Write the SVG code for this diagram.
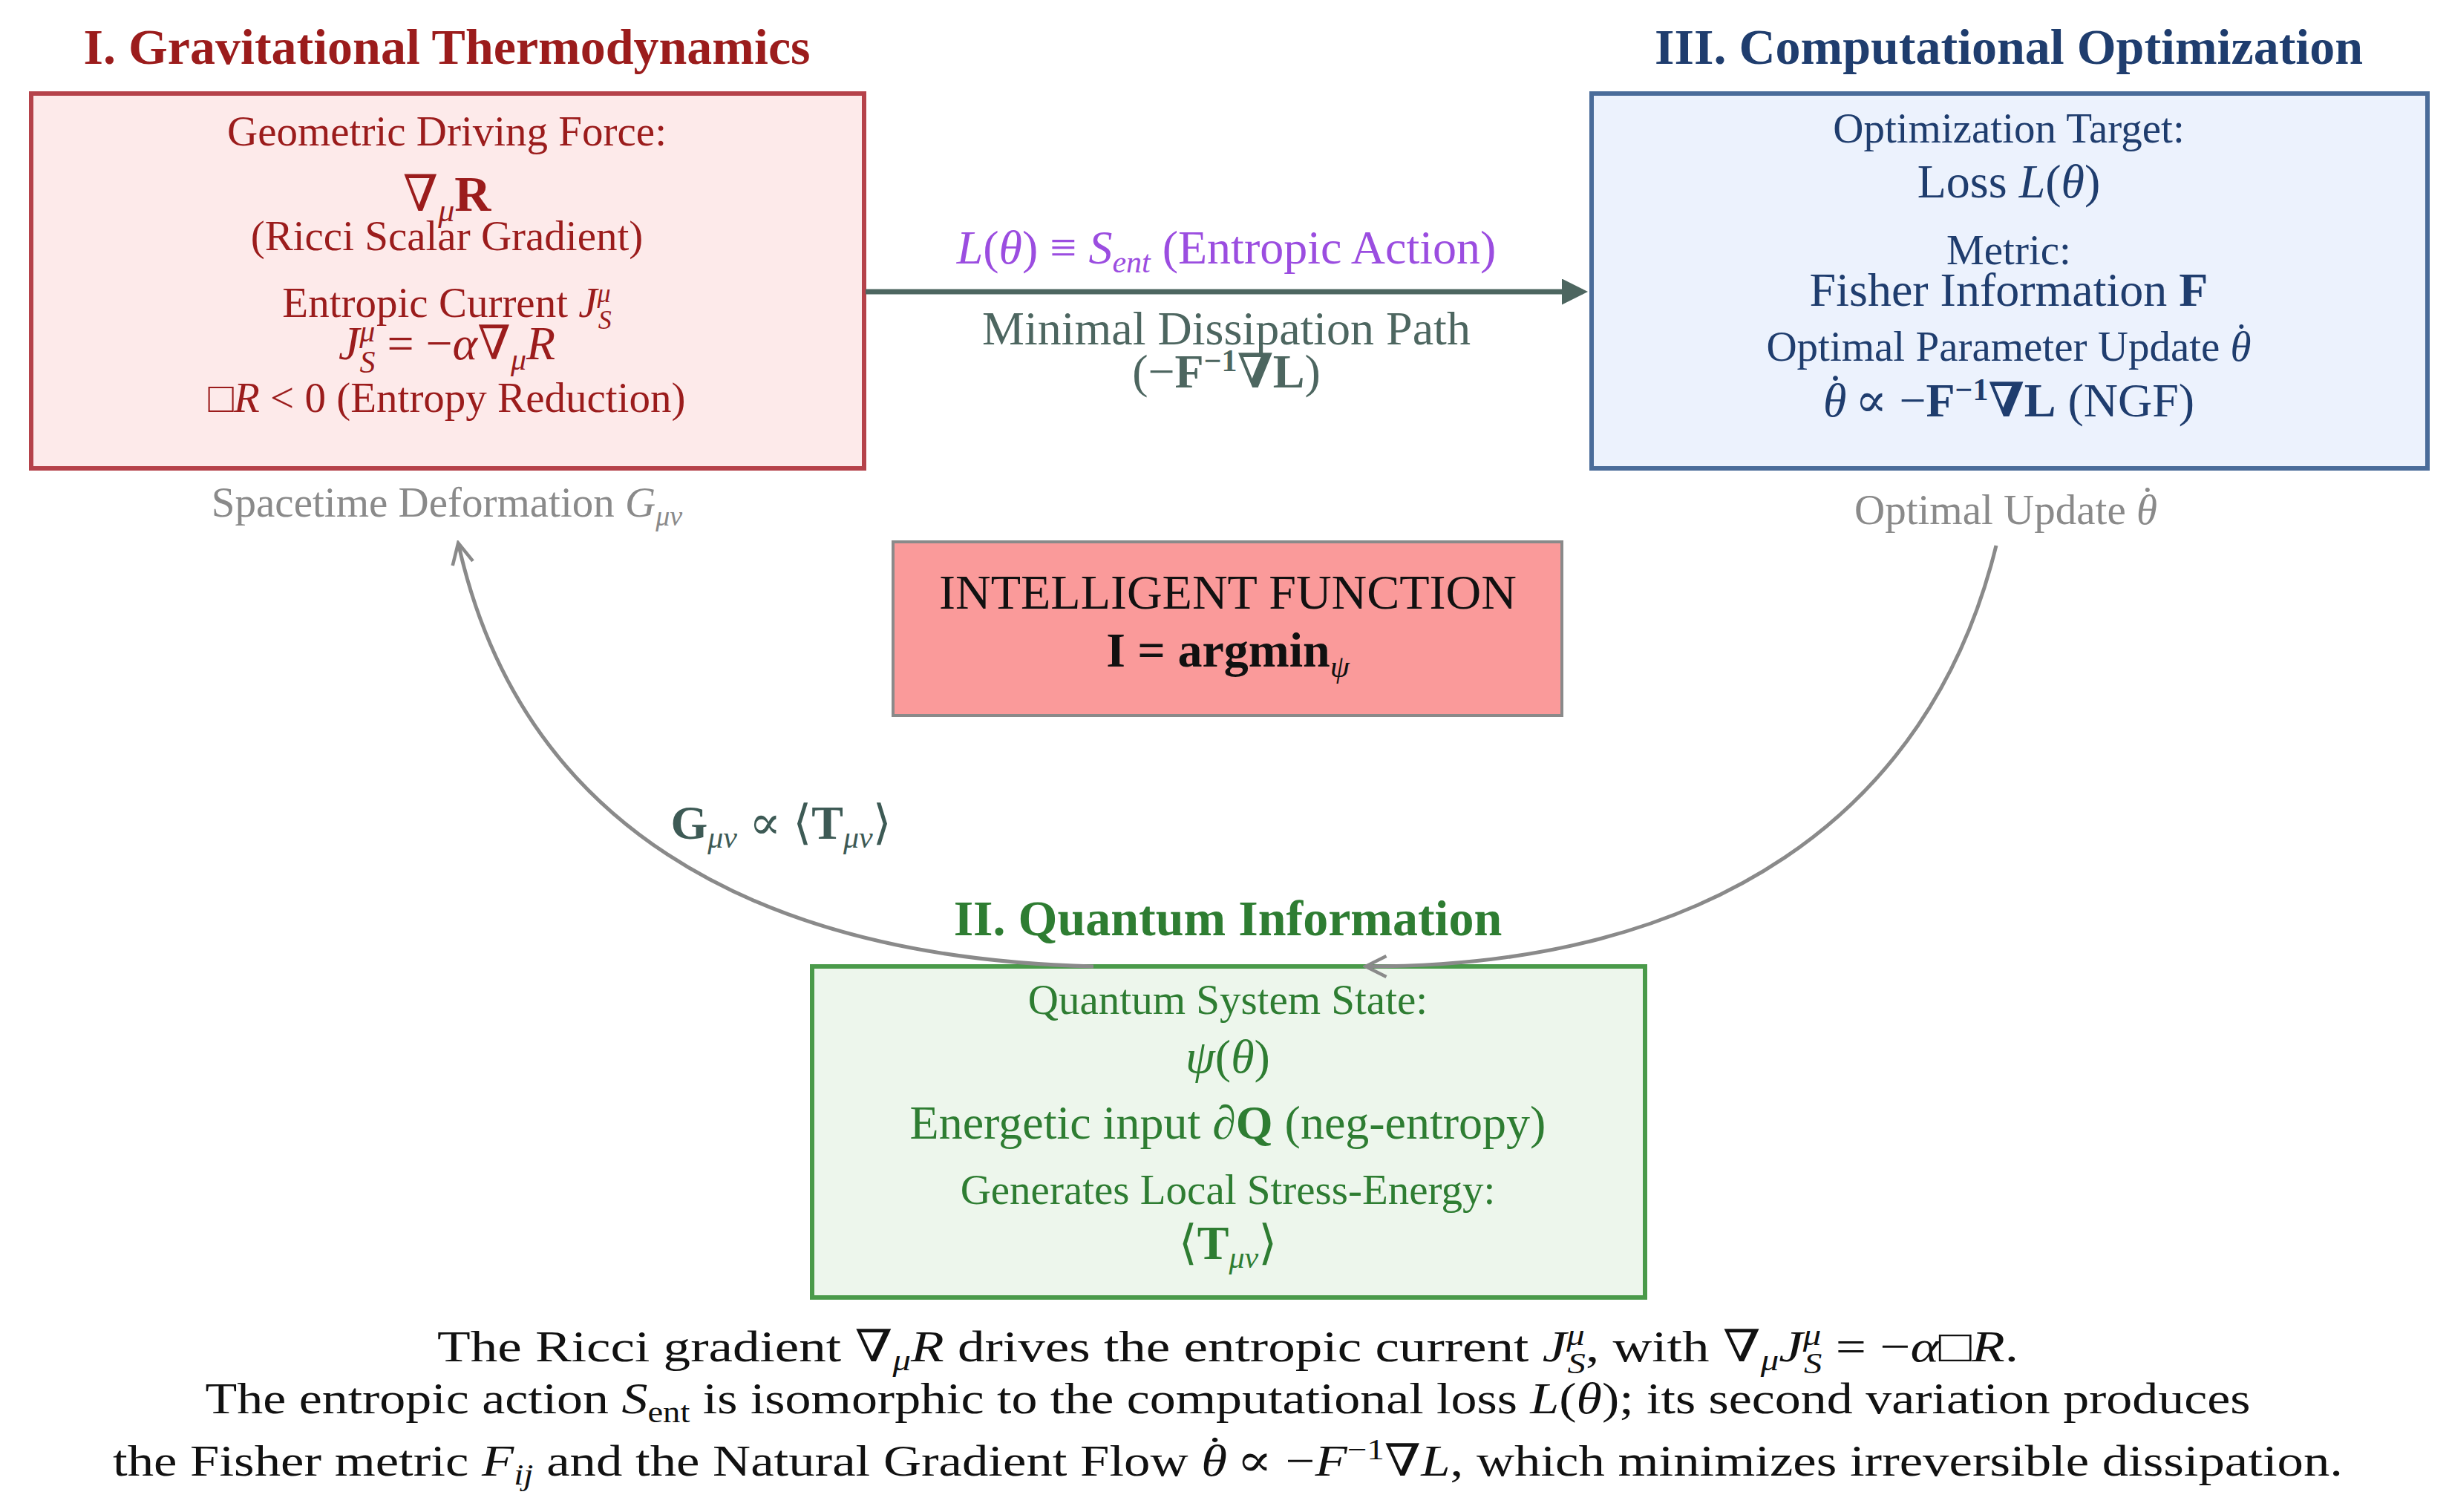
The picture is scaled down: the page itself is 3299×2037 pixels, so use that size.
<svg xmlns="http://www.w3.org/2000/svg" width="3299" height="2037" viewBox="0 0 3299 2037">
<style>
text{font-family:"Liberation Serif","DejaVu Serif",serif;text-anchor:middle}
.t{font-size:68px;font-weight:bold}
.s{font-size:57px}
.m{font-size:64px}
.r{fill:#9b1c1c}.b{fill:#1f3d6e}.g{fill:#2e7d32}.k{fill:#111}.gr{fill:#8a8a8a}
.i{font-style:italic}
.bd{font-weight:bold}
</style>
<defs>
<marker id="ah" viewBox="0 0 10 10" refX="8" refY="5" markerWidth="5" markerHeight="5" orient="auto"><path d="M0,0 L10,5 L0,10 z" fill="#4d6660"/></marker>
<marker id="ag" viewBox="0 0 10 10" refX="8" refY="5" markerWidth="7" markerHeight="7" orient="auto"><path d="M1,1 L9,5 L1,9" fill="none" stroke="#8a8a8a" stroke-width="1.3"/></marker>
</defs>
<rect width="3299" height="2037" fill="#fff"/>
<g id="grav">
<text x="602" y="86" class="t r">I. Gravitational Thermodynamics</text>
<rect x="42" y="126" width="1122" height="505" fill="#fdeaea" stroke="#b5424a" stroke-width="6"/>
<text x="602" y="196" class="s r">Geometric Driving Force:</text>
<text x="602" y="284" class="r" font-size="68"><tspan>∇</tspan><tspan class="i" font-size="44" dy="14">μ</tspan><tspan class="bd" dy="-14">R</tspan></text>
<text x="602" y="337" class="s r">(Ricci Scalar Gradient)</text>
<text x="602" y="427" class="s r">Entropic Current <tspan class="i">J</tspan><tspan class="i" font-size="36" dy="-20">μ</tspan><tspan class="i" font-size="36" dx="-17" dy="36">S</tspan></text>
<text x="602" y="484" class="m r"><tspan class="i">J</tspan><tspan class="i" font-size="42" dy="-24">μ</tspan><tspan class="i" font-size="42" dx="-21" dy="42">S</tspan><tspan dy="-18"> = −</tspan><tspan class="i">α</tspan>∇<tspan class="i" font-size="42" dy="14">μ</tspan><tspan class="i" dy="-14">R</tspan></text>
<text x="602" y="555" class="s r">□<tspan class="i">R</tspan> &lt; 0 (Entropy Reduction)</text>
<text x="602" y="696" class="s gr">Spacetime Deformation <tspan class="i">G</tspan><tspan class="i" font-size="38" dy="12">μν</tspan></text>
</g>
<g id="comp">
<text x="2706" y="86" class="t b">III. Computational Optimization</text>
<rect x="2144" y="126" width="1126" height="505" fill="#ecf2fd" stroke="#4a6c9a" stroke-width="6"/>
<text x="2706" y="192" class="s b">Optimization Target:</text>
<text x="2706" y="266" class="m b">Loss <tspan class="i">L</tspan>(<tspan class="i">θ</tspan>)</text>
<text x="2706" y="356" class="s b">Metric:</text>
<text x="2706" y="412" class="m b">Fisher Information <tspan class="bd">F</tspan></text>
<text x="2706" y="486" class="s b">Optimal Parameter Update <tspan class="i">θ</tspan><tspan dx="-0.4em" dy="-0.2em">˙</tspan><tspan dy="0.2em"> </tspan></text>
<text x="2706" y="561" class="m b"><tspan class="i">θ</tspan><tspan dx="-0.4em" dy="-0.2em">˙</tspan><tspan dy="0.2em"> ∝ −</tspan><tspan class="bd">F</tspan><tspan class="bd" font-size="42" dy="-22">−1</tspan><tspan class="bd" dy="22">∇L</tspan> (NGF)</text>
<text x="2702" y="706" class="s gr">Optimal Update <tspan class="i">θ</tspan><tspan dx="-0.4em" dy="-0.2em">˙</tspan><tspan dy="0.2em"> </tspan></text>
</g>
<g id="intel">
<rect x="1203" y="730" width="901" height="234" fill="#fa9a9a" stroke="#8a8a8a" stroke-width="4"/>
<text x="1654" y="820" font-size="66" class="k">INTELLIGENT FUNCTION</text>
<text x="1654" y="898" font-size="66" class="k bd">I = argmin<tspan class="i" font-weight="normal" font-size="42" dy="14">ψ</tspan></text>
</g>
<g id="quant">
<text x="1654" y="1260" class="t g">II. Quantum Information</text>
<rect x="1094" y="1302" width="1122" height="446" fill="#edf6ec" stroke="#4a9a4a" stroke-width="6"/>
<text x="1654" y="1366" class="s g">Quantum System State:</text>
<text x="1654" y="1445" class="m g"><tspan class="i">ψ</tspan>(<tspan class="i">θ</tspan>)</text>
<text x="1654" y="1534" class="m g">Energetic input <tspan class="i">∂</tspan><tspan class="bd">Q</tspan> (neg-entropy)</text>
<text x="1654" y="1622" class="s g">Generates Local Stress-Energy:</text>
<text x="1654" y="1696" class="m g">⟨<tspan class="bd">T</tspan><tspan class="i" font-size="42" dy="12">μν</tspan><tspan dy="-12">⟩</tspan></text>
</g>
<g id="connectors">
<line x1="1166" y1="393" x2="2132" y2="393" stroke="#4d6660" stroke-width="7" marker-end="url(#ah)"/>
<path d="M1473,1302 C1000,1290 700,1100 618,735" fill="none" stroke="#8a8a8a" stroke-width="5" marker-end="url(#ag)"/>
<path d="M2689,735 C2600,1100 2300,1302 1843,1302" fill="none" stroke="#8a8a8a" stroke-width="5" marker-end="url(#ag)"/>
<text x="1652" y="355" class="m" fill="#9b4de0"><tspan class="i">L</tspan>(<tspan class="i">θ</tspan>) ≡ <tspan class="i">S</tspan><tspan class="i" font-size="42" dy="12">ent</tspan><tspan dy="-12"> (Entropic Action)</tspan></text>
<text x="1652" y="464" class="m" fill="#4d6660">Minimal Dissipation Path</text>
<text x="1652" y="522" class="m" fill="#4d6660">(−<tspan class="bd">F</tspan><tspan font-size="42" dy="-22" class="bd">−1</tspan><tspan dy="22" class="bd">∇L</tspan>)</text>
<text x="1052" y="1130" class="m" fill="#3d5a55"><tspan class="bd">G</tspan><tspan class="i" font-size="42" dy="12">μν</tspan><tspan dy="-12"> ∝ ⟨</tspan><tspan class="bd">T</tspan><tspan class="i" font-size="42" dy="12">μν</tspan><tspan dy="-12">⟩</tspan></text>
</g>
<g id="caption" class="k">
<text x="1654" y="1834" font-size="60" textLength="2130" lengthAdjust="spacingAndGlyphs">The Ricci gradient ∇<tspan class="i" font-size="40" dy="12">μ</tspan><tspan class="i" dy="-12">R</tspan> drives the entropic current <tspan class="i">J</tspan><tspan class="i" font-size="40" dy="-22">μ</tspan><tspan class="i" font-size="40" dx="-19" dy="38">S</tspan><tspan dy="-16">, with ∇</tspan><tspan class="i" font-size="40" dy="12">μ</tspan><tspan class="i" dy="-12">J</tspan><tspan class="i" font-size="40" dy="-22">μ</tspan><tspan class="i" font-size="40" dx="-19" dy="38">S</tspan><tspan dy="-16"> = −</tspan><tspan class="i">α</tspan>□<tspan class="i">R</tspan>.</text>
<text x="1654" y="1904" font-size="60" textLength="2755" lengthAdjust="spacingAndGlyphs">The entropic action <tspan class="i">S</tspan><tspan font-size="40" dy="12">ent</tspan><tspan dy="-12"> is isomorphic to the computational loss </tspan><tspan class="i">L</tspan>(<tspan class="i">θ</tspan>); its second variation produces</text>
<text x="1654" y="1988" font-size="60" textLength="3004" lengthAdjust="spacingAndGlyphs">the Fisher metric <tspan class="i">F</tspan><tspan class="i" font-size="40" dy="12">ij</tspan><tspan dy="-12"> and the Natural Gradient Flow </tspan><tspan class="i">θ</tspan><tspan dx="-0.4em" dy="-0.2em">˙</tspan><tspan dy="0.2em"> ∝ −</tspan><tspan class="i">F</tspan><tspan font-size="40" dy="-22">−1</tspan><tspan dy="22">∇</tspan><tspan class="i">L</tspan>, which minimizes irreversible dissipation.</text>
</g>
</svg>
